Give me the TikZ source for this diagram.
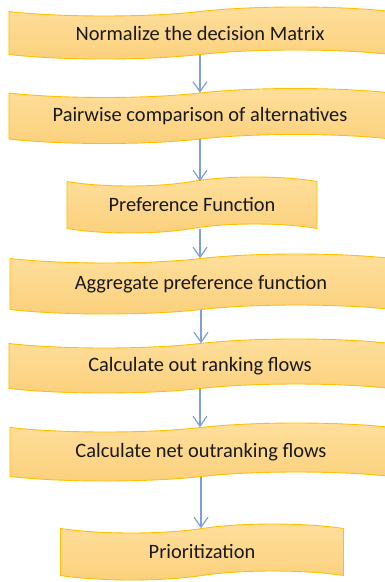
\documentclass[tikz,border=0pt]{standalone}
\usepackage{fontspec}
\setmainfont{Carlito}
\usetikzlibrary{shapes.symbols,arrows.meta}

\definecolor{boxtop}{HTML}{FFDF9C}
\definecolor{boxbot}{HTML}{FAD07C}
\definecolor{boxline}{HTML}{FFC000}
\definecolor{arrowblue}{HTML}{7F9FD8}

\tikzset{
  stepbox/.style={tape, draw=boxline, line width=0.9bp, top color=boxtop, bottom color=boxbot,
    tape bend height=9bp, inner sep=0pt, font=\fontsize{20.5}{24}\selectfont, text=black!90},
  flowarrow/.style={draw=arrowblue, line width=1.2bp, -{Straight Barb[length=10bp,width=14bp]}}
}

\begin{document}
\begin{tikzpicture}[x=1bp,y=-1bp]
    \useasboundingbox (0,0) rectangle (384,582);
    \node[stepbox, minimum width=382bp, minimum height=52bp] (normalize) at (200,33) {Normalize the decision Matrix};
    \node[stepbox, minimum width=382bp, minimum height=55bp] (pairwise) at (200,116) {Pairwise comparison of alternatives};
    \node[stepbox, minimum width=250bp, minimum height=56bp] (preference) at (192,205) {Preference Function};
    \node[stepbox, minimum width=382bp, minimum height=60bp] (aggregate) at (201,284) {Aggregate preference function};
    \node[stepbox, minimum width=382bp, minimum height=54bp] (outflows) at (200,366) {Calculate out ranking flows};
    \node[stepbox, minimum width=382bp, minimum height=58bp] (netflows) at (201,452) {Calculate net outranking flows};
    \node[stepbox, minimum width=283bp, minimum height=56bp] (priority) at (202,552) {Prioritization};

    \draw[flowarrow] (normalize.south) -- (normalize.south |- pairwise.north);
    \draw[flowarrow] (pairwise.south) -- (pairwise.south |- preference.north);
    \draw[flowarrow] (pairwise.south |- preference.south) -- (pairwise.south |- aggregate.north);
    \draw[flowarrow] (aggregate.south) -- (aggregate.south |- outflows.north);
    \draw[flowarrow] (outflows.south) -- (outflows.south |- netflows.north);
    \draw[flowarrow] (netflows.south) -- (netflows.south |- priority.north);
\end{tikzpicture}
\end{document}
